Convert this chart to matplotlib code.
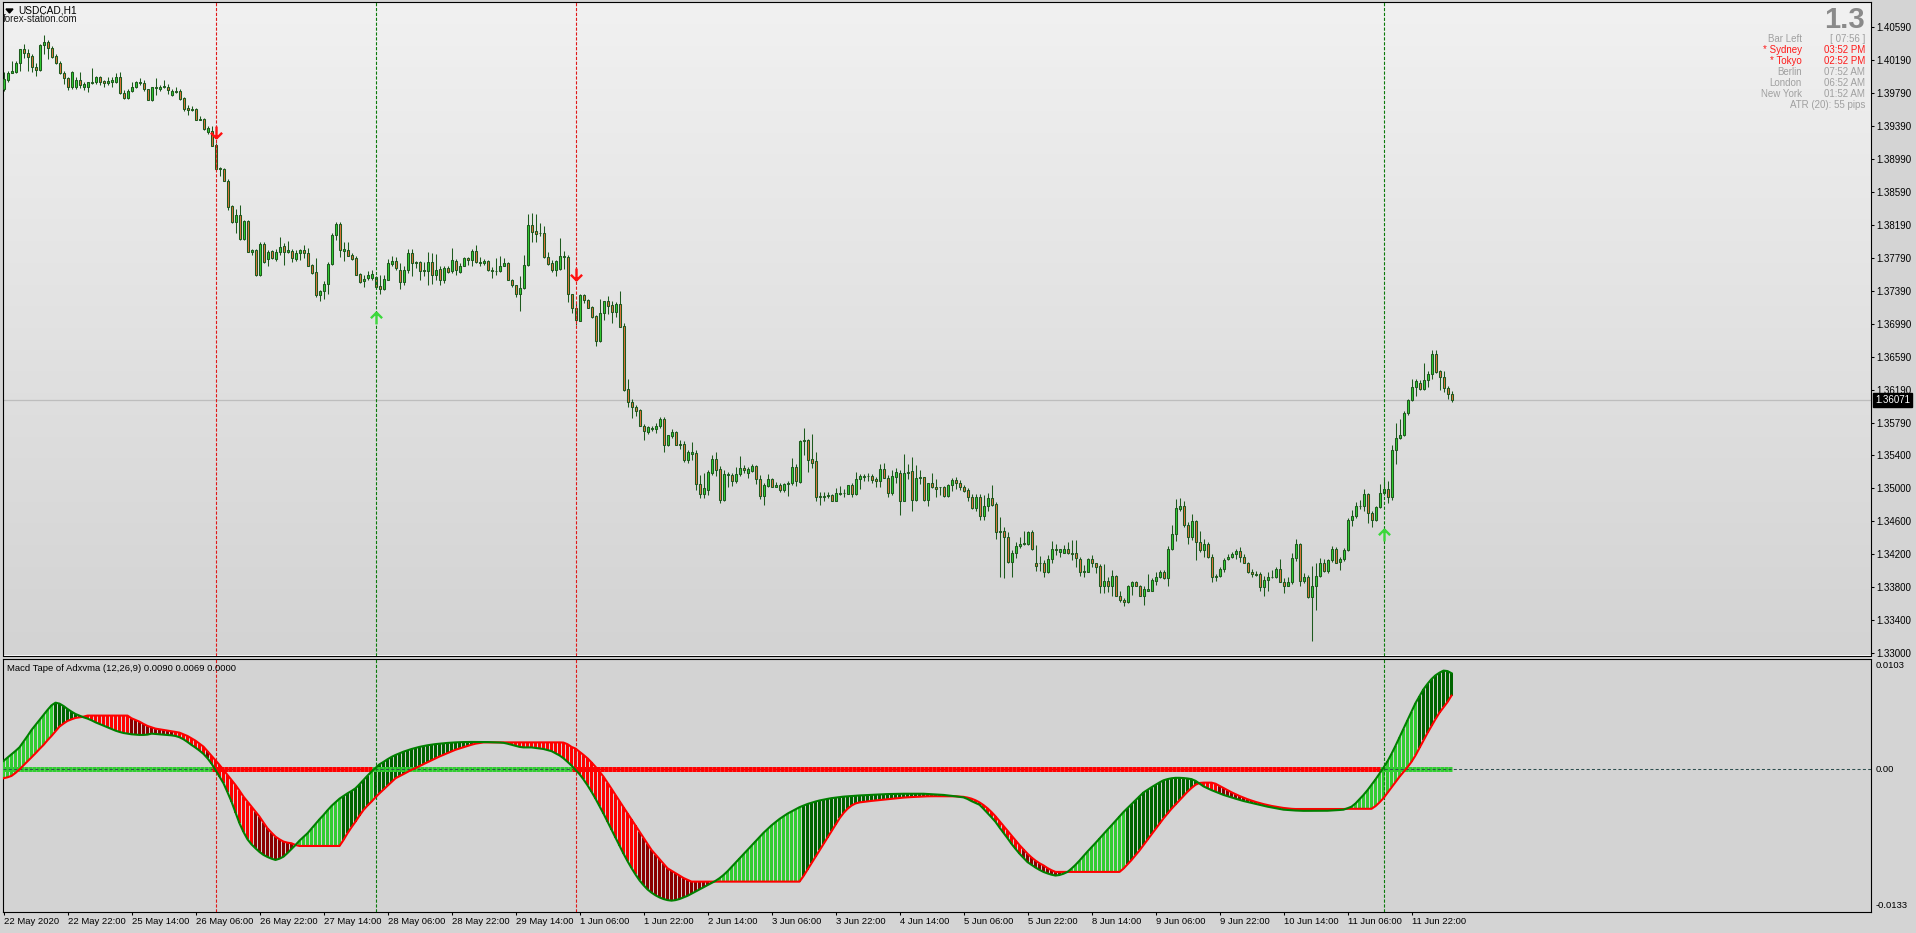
import numpy as np
import matplotlib
matplotlib.use("Agg")
import matplotlib.pyplot as plt
from matplotlib.collections import LineCollection
from matplotlib.patches import Polygon
from matplotlib.path import Path
from matplotlib.transforms import blended_transform_factory

plt.rcParams['font.family'] = ['Liberation Sans', 'DejaVu Sans']

# ---------------- DATA ----------------
opens = [
1.3984,1.3995,1.4004,1.4005,1.4015,1.4032,1.4028,1.4024,1.4011,1.4007,
1.4037,1.4041,1.4034,1.4024,1.4016,1.4004,1.3997,1.3986,1.3987,1.3995,
1.3987,1.3987,1.3991,1.3992,1.3998,1.3994,1.3991,1.3992,1.3993,1.3999,
1.3979,1.3973,1.3981,1.3986,1.3991,1.3991,1.3984,1.3971,1.3985,1.3984,
1.3986,1.3987,1.3977,1.3980,1.3982,1.3973,1.3961,1.3959,1.3960,1.3947,
1.3948,1.3932,1.3933,1.3916,1.3888,1.3887,1.3873,1.3842,1.3823,1.3831,
1.3802,1.3824,1.3787,1.3789,1.3758,1.3796,1.3778,1.3788,1.3778,1.3786,
1.3794,1.3786,1.3788,1.3778,1.3785,1.3789,1.3785,1.3771,1.3762,1.3734,
1.3739,1.3748,1.3772,1.3807,1.3820,1.3788,1.3789,1.3783,1.3779,1.3760,
1.3751,1.3755,1.3755,1.3756,1.3745,1.3742,1.3753,1.3772,1.3776,1.3765,
1.3750,1.3765,1.3785,1.3773,1.3774,1.3763,1.3763,1.3774,1.3758,1.3766,
1.3752,1.3767,1.3763,1.3776,1.3762,1.3770,1.3779,1.3777,1.3788,1.3774,
1.3773,1.3776,1.3764,1.3763,1.3763,1.3770,1.3773,1.3752,1.3746,1.3736,
1.3743,1.3771,1.3819,1.3812,1.3809,1.3809,1.3780,1.3773,1.3765,1.3766,
1.3780,1.3780,1.3735,1.3718,1.3703,1.3734,1.3728,1.3720,1.3709,1.3678,
1.3713,1.3727,1.3722,1.3714,1.3723,1.3697,1.3620,1.3604,1.3598,1.3595,
1.3576,1.3568,1.3572,1.3572,1.3575,1.3584,1.3552,1.3563,1.3568,1.3554,
1.3554,1.3534,1.3542,1.3543,1.3505,1.3493,1.3498,1.3519,1.3535,1.3523,
1.3486,1.3516,1.3516,1.3509,1.3517,1.3525,1.3518,1.3521,1.3527,1.3511,
1.3491,1.3503,1.3511,1.3502,1.3504,1.3498,1.3505,1.3507,1.3526,1.3508,
1.3557,1.3558,1.3535,1.3533,1.3490,1.3490,1.3491,1.3492,1.3485,1.3493,
1.3494,1.3493,1.3504,1.3493,1.3511,1.3514,1.3515,1.3515,1.3511,1.3509,
1.3523,1.3513,1.3494,1.3514,1.3519,1.3485,1.3518,1.3521,1.3486,1.3513,
1.3514,1.3486,1.3506,1.3502,1.3501,1.3501,1.3491,1.3504,1.3510,1.3507,
1.3502,1.3498,1.3490,1.3476,1.3490,1.3466,1.3479,1.3488,1.3481,1.3447,
1.3448,1.3441,1.3411,1.3421,1.3430,1.3433,1.3433,1.3447,1.3409,1.3410,
1.3410,1.3398,1.3414,1.3427,1.3423,1.3422,1.3427,1.3422,1.3421,1.3414,
1.3398,1.3399,1.3414,1.3409,1.3406,1.3382,1.3388,1.3382,1.3394,1.3370,
1.3365,1.3362,1.3382,1.3387,1.3382,1.3370,1.3376,1.3376,1.3388,1.3392,
1.3399,1.3391,1.3427,1.3444,1.3475,1.3478,1.3455,1.3441,1.3460,1.3435,
1.3425,1.3433,1.3417,1.3392,1.3394,1.3402,1.3414,1.3417,1.3420,1.3424,
1.3417,1.3410,1.3398,1.3396,1.3396,1.3380,1.3389,1.3392,1.3392,1.3402,
1.3387,1.3382,1.3386,1.3415,1.3432,1.3388,1.3393,1.3368,1.3381,1.3394,
1.3410,1.3400,1.3413,1.3427,1.3411,1.3414,1.3425,1.3462,1.3466,1.3478,
1.3478,1.3493,1.3470,1.3461,1.3477,1.3494,1.3499,1.3489,1.3546,1.3561,
1.3565,1.3591,1.3607,1.3623,1.3628,1.3620,1.3631,1.3638,1.3663,1.3642,
1.3635,1.3622,1.3614]

highs = [
1.4005,1.4006,1.4018,1.4018,1.4033,1.4038,1.4032,1.4026,1.4016,1.4039,
1.4050,1.4044,1.4036,1.4026,1.4018,1.4006,1.3998,1.4006,1.3998,1.4005,
1.3993,1.3993,1.4009,1.4000,1.4000,1.3995,1.3999,1.3998,1.4004,1.4005,
1.3983,1.3984,1.3993,1.3994,1.3997,1.3995,1.3984,1.3987,1.3997,1.3989,
1.3995,1.3990,1.3984,1.3987,1.3984,1.3974,1.3965,1.3964,1.3961,1.3951,
1.3949,1.3939,1.3939,1.3918,1.3890,1.3888,1.3875,1.3843,1.3839,1.3843,
1.3825,1.3825,1.3790,1.3790,1.3798,1.3799,1.3789,1.3789,1.3790,1.3805,
1.3797,1.3800,1.3790,1.3789,1.3790,1.3795,1.3791,1.3772,1.3779,1.3740,
1.3751,1.3774,1.3809,1.3823,1.3823,1.3799,1.3799,1.3785,1.3781,1.3761,
1.3758,1.3763,1.3765,1.3757,1.3758,1.3759,1.3778,1.3782,1.3780,1.3773,
1.3769,1.3790,1.3790,1.3776,1.3776,1.3774,1.3787,1.3785,1.3784,1.3769,
1.3769,1.3769,1.3791,1.3778,1.3773,1.3780,1.3780,1.3790,1.3795,1.3780,
1.3778,1.3777,1.3768,1.3779,1.3782,1.3779,1.3774,1.3754,1.3747,1.3757,
1.3783,1.3832,1.3834,1.3833,1.3822,1.3818,1.3787,1.3777,1.3777,1.3803,
1.3788,1.3783,1.3736,1.3724,1.3736,1.3736,1.3729,1.3721,1.3710,1.3729,
1.3727,1.3733,1.3727,1.3726,1.3739,1.3700,1.3632,1.3608,1.3601,1.3596,
1.3578,1.3576,1.3576,1.3579,1.3586,1.3586,1.3565,1.3572,1.3569,1.3559,
1.3557,1.3546,1.3556,1.3547,1.3516,1.3519,1.3522,1.3540,1.3544,1.3527,
1.3522,1.3520,1.3518,1.3526,1.3539,1.3528,1.3526,1.3529,1.3528,1.3516,
1.3507,1.3517,1.3512,1.3508,1.3506,1.3506,1.3509,1.3537,1.3529,1.3559,
1.3573,1.3560,1.3566,1.3544,1.3495,1.3495,1.3496,1.3493,1.3500,1.3503,
1.3499,1.3504,1.3506,1.3520,1.3517,1.3517,1.3518,1.3517,1.3514,1.3529,
1.3531,1.3516,1.3522,1.3525,1.3522,1.3541,1.3530,1.3538,1.3528,1.3522,
1.3514,1.3507,1.3518,1.3511,1.3502,1.3503,1.3505,1.3513,1.3514,1.3510,
1.3504,1.3500,1.3493,1.3493,1.3493,1.3492,1.3494,1.3504,1.3483,1.3465,
1.3453,1.3447,1.3425,1.3435,1.3441,1.3448,1.3448,1.3450,1.3431,1.3418,
1.3413,1.3419,1.3436,1.3432,1.3427,1.3431,1.3435,1.3437,1.3437,1.3417,
1.3407,1.3416,1.3419,1.3410,1.3408,1.3408,1.3393,1.3401,1.3395,1.3375,
1.3367,1.3383,1.3388,1.3388,1.3383,1.3381,1.3396,1.3391,1.3399,1.3401,
1.3401,1.3430,1.3456,1.3487,1.3488,1.3484,1.3459,1.3469,1.3462,1.3448,
1.3439,1.3435,1.3420,1.3396,1.3404,1.3415,1.3420,1.3423,1.3427,1.3429,
1.3420,1.3411,1.3402,1.3400,1.3398,1.3394,1.3399,1.3401,1.3405,1.3414,
1.3391,1.3393,1.3421,1.3438,1.3434,1.3397,1.3395,1.3406,1.3409,1.3415,
1.3414,1.3414,1.3430,1.3429,1.3417,1.3428,1.3464,1.3474,1.3483,1.3486,
1.3499,1.3494,1.3473,1.3479,1.3505,1.3513,1.3509,1.3552,1.3579,1.3584,
1.3594,1.3608,1.3632,1.3633,1.3631,1.3652,1.3642,1.3668,1.3668,1.3643,
1.3642,1.3624,1.3618]

lows = [
1.3981,1.3993,1.4003,1.4003,1.4006,1.4022,1.4006,1.4005,1.4000,1.4006,
1.4026,1.4020,1.4021,1.4014,1.4002,1.3990,1.3983,1.3984,1.3984,1.3985,
1.3983,1.3980,1.3990,1.3990,1.3989,1.3987,1.3989,1.3987,1.3991,1.3978,
1.3972,1.3972,1.3980,1.3985,1.3989,1.3981,1.3971,1.3969,1.3977,1.3982,
1.3985,1.3978,1.3975,1.3979,1.3971,1.3957,1.3953,1.3957,1.3946,1.3946,
1.3934,1.3930,1.3915,1.3886,1.3878,1.3873,1.3837,1.3821,1.3810,1.3801,
1.3801,1.3786,1.3783,1.3757,1.3757,1.3773,1.3769,1.3778,1.3776,1.3783,
1.3771,1.3785,1.3774,1.3775,1.3777,1.3779,1.3769,1.3760,1.3732,1.3727,
1.3730,1.3735,1.3771,1.3801,1.3780,1.3776,1.3781,1.3777,1.3758,1.3749,
1.3744,1.3752,1.3752,1.3741,1.3735,1.3740,1.3752,1.3769,1.3765,1.3741,
1.3747,1.3761,1.3757,1.3767,1.3752,1.3757,1.3746,1.3748,1.3752,1.3747,
1.3749,1.3761,1.3761,1.3758,1.3761,1.3769,1.3771,1.3769,1.3773,1.3769,
1.3771,1.3763,1.3755,1.3759,1.3762,1.3769,1.3752,1.3744,1.3732,1.3715,
1.3742,1.3770,1.3798,1.3798,1.3806,1.3779,1.3771,1.3762,1.3757,1.3765,
1.3766,1.3726,1.3712,1.3698,1.3703,1.3725,1.3718,1.3706,1.3673,1.3677,
1.3704,1.3711,1.3700,1.3708,1.3695,1.3618,1.3598,1.3585,1.3588,1.3575,
1.3558,1.3566,1.3569,1.3567,1.3573,1.3544,1.3551,1.3561,1.3553,1.3548,
1.3532,1.3531,1.3534,1.3498,1.3488,1.3488,1.3492,1.3516,1.3515,1.3482,
1.3484,1.3501,1.3503,1.3506,1.3515,1.3518,1.3512,1.3520,1.3505,1.3487,
1.3480,1.3502,1.3501,1.3501,1.3496,1.3495,1.3491,1.3504,1.3503,1.3507,
1.3540,1.3520,1.3525,1.3485,1.3480,1.3485,1.3488,1.3484,1.3484,1.3492,
1.3489,1.3493,1.3490,1.3492,1.3499,1.3509,1.3509,1.3506,1.3501,1.3502,
1.3512,1.3490,1.3492,1.3506,1.3468,1.3484,1.3511,1.3472,1.3485,1.3505,
1.3485,1.3479,1.3500,1.3490,1.3492,1.3490,1.3490,1.3497,1.3499,1.3498,
1.3495,1.3484,1.3475,1.3472,1.3461,1.3461,1.3473,1.3479,1.3439,1.3393,
1.3391,1.3409,1.3393,1.3416,1.3428,1.3431,1.3431,1.3425,1.3400,1.3400,
1.3392,1.3397,1.3410,1.3419,1.3417,1.3421,1.3420,1.3413,1.3404,1.3394,
1.3392,1.3398,1.3405,1.3397,1.3373,1.3373,1.3374,1.3370,1.3369,1.3362,
1.3357,1.3361,1.3371,1.3381,1.3369,1.3359,1.3376,1.3375,1.3383,1.3391,
1.3390,1.3382,1.3425,1.3436,1.3472,1.3453,1.3433,1.3437,1.3413,1.3423,
1.3417,1.3416,1.3386,1.3388,1.3393,1.3398,1.3413,1.3416,1.3414,1.3411,
1.3409,1.3397,1.3392,1.3394,1.3375,1.3370,1.3375,1.3391,1.3391,1.3386,
1.3373,1.3381,1.3384,1.3412,1.3382,1.3385,1.3367,1.3315,1.3353,1.3393,
1.3398,1.3397,1.3411,1.3409,1.3401,1.3412,1.3424,1.3454,1.3464,1.3475,
1.3472,1.3458,1.3453,1.3460,1.3476,1.3492,1.3482,1.3486,1.3530,1.3560,
1.3563,1.3589,1.3606,1.3612,1.3619,1.3619,1.3623,1.3632,1.3640,1.3619,
1.3617,1.3608,1.3605]

closes = [
1.3996,1.4004,1.4006,1.4016,1.4032,1.4028,1.4023,1.4011,1.4007,1.4037,
1.4041,1.4034,1.4023,1.4016,1.4004,1.3997,1.3986,1.4005,1.3995,1.3989,
1.3990,1.3992,1.3992,1.3999,1.3992,1.3991,1.3994,1.3995,1.3999,1.3979,
1.3973,1.3981,1.3986,1.3992,1.3993,1.3984,1.3971,1.3986,1.3986,1.3987,
1.3988,1.3983,1.3982,1.3982,1.3972,1.3960,1.3959,1.3960,1.3947,1.3948,
1.3936,1.3937,1.3915,1.3887,1.3887,1.3873,1.3841,1.3823,1.3831,1.3802,
1.3824,1.3787,1.3789,1.3758,1.3796,1.3774,1.3787,1.3779,1.3786,1.3793,
1.3787,1.3789,1.3779,1.3785,1.3789,1.3785,1.3770,1.3761,1.3734,1.3739,
1.3748,1.3772,1.3807,1.3820,1.3789,1.3790,1.3782,1.3778,1.3759,1.3750,
1.3754,1.3759,1.3760,1.3744,1.3742,1.3754,1.3773,1.3775,1.3767,1.3750,
1.3765,1.3785,1.3773,1.3774,1.3763,1.3764,1.3774,1.3758,1.3765,1.3752,
1.3767,1.3762,1.3777,1.3765,1.3770,1.3779,1.3777,1.3788,1.3774,1.3773,
1.3775,1.3764,1.3763,1.3763,1.3770,1.3773,1.3752,1.3746,1.3735,1.3743,
1.3771,1.3819,1.3811,1.3808,1.3810,1.3780,1.3772,1.3764,1.3775,1.3781,
1.3782,1.3735,1.3718,1.3704,1.3734,1.3728,1.3719,1.3708,1.3678,1.3713,
1.3727,1.3721,1.3714,1.3723,1.3696,1.3619,1.3604,1.3598,1.3594,1.3576,
1.3569,1.3574,1.3573,1.3576,1.3584,1.3552,1.3564,1.3568,1.3553,1.3553,
1.3534,1.3544,1.3544,1.3505,1.3493,1.3500,1.3520,1.3535,1.3522,1.3486,
1.3517,1.3517,1.3509,1.3517,1.3525,1.3522,1.3523,1.3527,1.3511,1.3491,
1.3504,1.3511,1.3502,1.3504,1.3498,1.3505,1.3507,1.3526,1.3509,1.3557,
1.3559,1.3534,1.3531,1.3490,1.3491,1.3491,1.3492,1.3485,1.3494,1.3494,
1.3494,1.3504,1.3493,1.3511,1.3515,1.3515,1.3515,1.3510,1.3509,1.3523,
1.3513,1.3494,1.3515,1.3520,1.3485,1.3518,1.3520,1.3486,1.3513,1.3514,
1.3486,1.3506,1.3502,1.3499,1.3501,1.3491,1.3504,1.3510,1.3507,1.3501,
1.3497,1.3490,1.3476,1.3490,1.3466,1.3479,1.3488,1.3480,1.3447,1.3448,
1.3441,1.3411,1.3421,1.3430,1.3433,1.3434,1.3447,1.3426,1.3406,1.3409,
1.3398,1.3414,1.3427,1.3425,1.3426,1.3427,1.3421,1.3420,1.3415,1.3398,
1.3400,1.3414,1.3409,1.3405,1.3382,1.3388,1.3382,1.3394,1.3370,1.3365,
1.3362,1.3382,1.3387,1.3382,1.3370,1.3378,1.3378,1.3389,1.3392,1.3399,
1.3391,1.3427,1.3444,1.3476,1.3478,1.3455,1.3441,1.3460,1.3435,1.3425,
1.3433,1.3417,1.3392,1.3394,1.3402,1.3413,1.3417,1.3420,1.3424,1.3417,
1.3410,1.3398,1.3396,1.3395,1.3380,1.3389,1.3392,1.3393,1.3402,1.3387,
1.3382,1.3386,1.3415,1.3432,1.3388,1.3393,1.3368,1.3381,1.3394,1.3410,
1.3400,1.3413,1.3427,1.3410,1.3414,1.3425,1.3462,1.3466,1.3478,1.3479,
1.3493,1.3470,1.3461,1.3477,1.3494,1.3499,1.3489,1.3546,1.3561,1.3565,
1.3591,1.3607,1.3623,1.3630,1.3620,1.3631,1.3639,1.3663,1.3641,1.3635,
1.3622,1.3614,1.36071]

# MACD tape values, in units of 0.0001
macd_pts = [
7.8,10.9,14.0,17.2,20.6,25.9,31.2,36.8,41.5,46.2,
50.9,55.6,59.9,62.4,61.5,59.3,56.5,54.0,51.8,50.3,
48.7,47.5,45.9,44.0,42.5,40.9,39.3,37.8,36.2,35.0,
34.0,33.4,32.8,32.5,32.2,32.2,32.5,33.4,33.1,32.8,
32.5,32.2,31.8,31.2,30.0,28.1,25.6,22.8,20.3,17.5,
14.4,10.3,5.3,-0.6,-6.9,-13.1,-21.5,-30.3,-40.6,-50.6,
-58.7,-65.6,-70.3,-74.0,-77.4,-80.2,-82.1,-83.7,-84.9,-83.7,
-81.8,-78.4,-74.6,-70.9,-66.8,-63.4,-59.9,-55.6,-51.2,-46.8,
-42.8,-38.4,-34.3,-30.9,-27.5,-25.0,-22.5,-20.3,-17.8,-14.0,
-10.0,-5.9,-2.2,1.2,4.7,6.9,9.4,11.6,13.4,15.0,
16.5,17.8,19.0,20.0,21.0,21.8,22.5,23.1,23.6,24.0,
24.4,24.7,25.0,25.2,25.4,25.5,25.6,25.6,25.6,25.6,
25.6,25.5,25.4,25.3,25.1,24.8,24.0,23.0,22.0,21.0,
20.5,20.5,20.5,20.0,19.5,19.0,18.0,17.0,15.0,13.0,
10.3,7.0,3.5,-0.5,-4.5,-9.5,-15.0,-21.0,-27.5,-34.5,
-41.5,-49.0,-56.5,-64.0,-71.5,-79.0,-86.0,-92.5,-98.5,-104.0,
-108.5,-112.5,-115.5,-118.0,-120.0,-121.5,-122.5,-123.0,-122.5,-121.5,
-120.0,-118.5,-116.5,-114.5,-112.5,-110.5,-108.5,-106.5,-104.5,-102.0,
-99.0,-95.5,-91.5,-87.5,-83.5,-79.5,-75.5,-71.5,-67.5,-63.5,
-59.5,-56.0,-52.5,-49.5,-46.5,-44.0,-41.5,-39.5,-37.5,-35.5,
-34.0,-32.5,-31.3,-30.2,-29.2,-28.4,-27.7,-27.0,-26.5,-26.0,
-25.6,-25.3,-25.0,-24.7,-24.5,-24.3,-24.1,-23.9,-23.7,-23.5,
-23.3,-23.2,-23.1,-23.0,-22.9,-22.9,-22.9,-22.9,-22.9,-22.9,
-22.9,-23.1,-23.3,-23.5,-23.8,-24.0,-24.4,-24.8,-25.3,-25.8,
-26.3,-27.8,-29.8,-31.5,-33.2,-37.0,-41.0,-45.0,-49.2,-54.5,
-59.5,-64.5,-69.8,-74.5,-79.0,-83.0,-86.9,-89.5,-92.0,-94.2,
-96.1,-97.5,-98.7,-99.5,-99.0,-97.8,-96.1,-93.0,-89.5,-85.5,
-81.2,-77.0,-73.0,-69.0,-64.8,-60.6,-56.5,-52.5,-48.3,-44.2,
-40.0,-36.3,-32.6,-28.9,-25.3,-21.7,-19.2,-16.8,-14.5,-12.3,
-10.3,-9.2,-8.4,-8.0,-8.0,-8.2,-8.6,-9.2,-10.8,-13.3,
-16.0,-17.8,-19.5,-21.0,-22.5,-24.0,-25.2,-26.4,-27.5,-28.6,
-29.7,-30.6,-31.5,-32.5,-33.4,-34.3,-35.0,-35.7,-36.4,-37.1,
-37.8,-38.1,-38.4,-38.6,-38.8,-38.9,-38.9,-38.9,-38.9,-38.9,
-38.9,-38.8,-38.6,-38.4,-38.1,-37.8,-36.5,-35.0,-32.0,-28.0,
-24.0,-19.5,-14.5,-9.5,-4.0,1.5,7.5,14.5,22.0,30.0,
38.0,46.0,54.0,62.0,68.5,75.0,80.0,84.5,88.0,90.5,
92.4,92.0,90.0]

signal_pts = [
-8.4,-7.5,-6.2,-3.4,0.0,3.7,7.5,11.2,15.0,19.0,
22.8,27.2,31.2,35.6,40.0,42.8,45.3,46.8,48.1,48.7,
49.3,50.3,50.3,50.3,50.3,50.3,50.3,50.3,50.3,50.3,
50.3,50.3,47.8,46.2,44.6,42.5,40.6,39.3,38.1,37.5,
36.8,36.2,35.6,35.0,34.3,32.8,31.2,29.0,26.8,24.0,
21.2,16.9,12.5,8.4,4.1,-0.6,-5.3,-10.0,-14.7,-20.0,
-25.6,-30.3,-35.0,-39.6,-44.3,-49.9,-55.3,-59.3,-63.1,-65.6,
-67.7,-68.7,-69.3,-70.9,-71.8,-71.8,-71.8,-71.8,-71.8,-71.8,
-71.8,-71.8,-71.8,-71.8,-71.8,-66.2,-59.9,-54.3,-49.0,-43.4,
-38.1,-34.0,-30.3,-26.2,-22.5,-19.0,-15.6,-11.9,-8.4,-6.5,
-4.5,-2.5,-0.5,1.1,3.0,4.8,6.6,8.5,10.3,12.0,
13.6,15.2,16.8,18.3,19.5,20.7,21.9,23.0,24.0,24.6,
25.2,25.2,25.2,25.2,25.2,25.2,25.2,25.2,25.2,25.2,
25.2,25.2,25.2,25.2,25.2,25.2,25.2,25.2,25.2,25.2,
25.0,23.5,21.0,19.4,16.5,13.5,10.3,6.5,2.3,-2.2,
-6.9,-12.5,-18.2,-24.0,-29.7,-35.5,-41.2,-47.0,-52.6,-58.4,
-64.1,-69.8,-75.5,-79.8,-84.2,-88.5,-92.7,-95.0,-97.3,-99.6,
-101.8,-103.5,-105.2,-105.2,-105.2,-105.2,-105.2,-105.2,-105.2,-105.2,
-105.2,-105.2,-105.2,-105.2,-105.2,-105.2,-105.2,-105.2,-105.2,-105.2,
-105.2,-105.2,-105.2,-105.2,-105.2,-105.2,-105.2,-105.2,-105.2,-105.2,
-100.0,-94.0,-88.0,-82.0,-76.0,-70.0,-64.0,-58.0,-52.0,-46.0,
-41.0,-37.0,-34.0,-32.0,-31.0,-30.5,-30.0,-29.6,-29.2,-28.8,
-28.4,-28.0,-27.6,-27.2,-26.8,-26.5,-26.2,-26.0,-25.8,-25.6,
-25.4,-25.3,-25.2,-25.2,-25.2,-25.2,-25.2,-25.2,-25.3,-25.5,
-25.8,-26.5,-27.5,-29.0,-31.0,-33.5,-36.5,-40.0,-44.0,-48.5,
-53.0,-57.5,-62.0,-66.5,-71.0,-75.0,-79.0,-82.5,-85.5,-88.0,
-90.0,-92.5,-94.5,-96.1,-96.1,-96.1,-96.1,-96.1,-96.1,-96.1,
-96.1,-96.1,-96.1,-96.1,-96.1,-96.1,-96.1,-96.1,-96.1,-96.1,
-93.0,-89.0,-85.0,-80.5,-76.0,-71.0,-66.0,-61.0,-56.0,-51.0,
-46.0,-41.5,-37.0,-33.0,-29.0,-25.0,-21.0,-17.5,-14.5,-12.8,
-12.5,-12.5,-12.5,-13.5,-15.5,-17.5,-19.5,-21.5,-23.3,-25.0,
-26.5,-28.0,-29.3,-30.5,-31.6,-32.6,-33.5,-34.3,-35.0,-35.6,
-36.2,-36.6,-37.0,-37.2,-37.2,-37.2,-37.2,-37.2,-37.2,-37.2,
-37.2,-37.2,-37.2,-37.2,-37.2,-37.2,-37.0,-37.0,-37.0,-37.0,
-37.0,-37.0,-37.0,-34.5,-31.0,-27.0,-22.0,-17.0,-12.0,-7.0,
-2.5,2.0,7.0,13.0,20.0,27.0,34.0,40.5,47.0,53.0,
58.0,63.0,69.0]

time_tick_bars = [0, 16, 32, 48, 64, 80, 96, 112, 128, 144, 160, 176, 192,
                  208, 224, 240, 256, 272, 288, 304, 320, 336, 352]
time_labels = ["22 May 2020", "22 May 22:00", "25 May 14:00", "26 May 06:00",
               "26 May 22:00", "27 May 14:00", "28 May 06:00", "28 May 22:00",
               "29 May 14:00", "1 Jun 06:00", "1 Jun 22:00", "2 Jun 14:00",
               "3 Jun 06:00", "3 Jun 22:00", "4 Jun 14:00", "5 Jun 06:00",
               "5 Jun 22:00", "8 Jun 14:00", "9 Jun 06:00", "9 Jun 22:00",
               "10 Jun 14:00", "11 Jun 06:00", "11 Jun 22:00"]

price_ticks = [1.40590, 1.40190, 1.39790, 1.39390, 1.38990, 1.38590, 1.38190,
               1.37790, 1.37390, 1.36990, 1.36590, 1.36190, 1.35790, 1.35400,
               1.35000, 1.34600, 1.34200, 1.33800, 1.33400, 1.33000]

sell_bars = [53, 143]
sell_prices = [1.3932, 1.3760]
buy_bars = [93, 345]
buy_prices = [1.3707, 1.3443]

info_names = ["Bar Left", "* Sydney", "* Tokyo", "Berlin", "London", "New York"]
info_values = ["[ 07:56 ]", "03:52 PM", "02:52 PM", "07:52 AM", "06:52 AM", "01:52 AM"]
info_active = [False, True, True, False, False, False]

# ---------------- FIGURE ----------------
W, H = 1916, 933
fig = plt.figure(figsize=(W / 100, H / 100), dpi=100)
fig.patch.set_facecolor('#D4D4D4')

ax1 = fig.add_axes([2.5 / W, 1 - 655.5 / H, 1868 / W, 653 / H])
ax2 = fig.add_axes([2.5 / W, 1 - 911.5 / H, 1868 / W, 253 / H])

o = np.array(opens); h = np.array(highs); l = np.array(lows); c = np.array(closes)
n = len(o)
x = np.arange(n)
macd = np.array(macd_pts) * 1e-4
sig = np.array(signal_pts) * 1e-4

EDGE = '#1E5A1E'
BULL = '#32CD32'
BEAR = '#E0733A'

# gradient background of main chart
g = np.linspace(241, 211, 256) / 255.0
grad = np.repeat(g[:, None], 3, axis=1)[:, None, :]
ax1.imshow(grad, extent=(0, 1, 0, 1), transform=ax1.transAxes, aspect='auto',
           interpolation='bilinear', zorder=0)

# current price line
ax1.axhline(c[-1], color='#BDBDBD', lw=0.9, zorder=1)

# candles
ax1.vlines(x, l, h, color=EDGE, lw=0.75, zorder=2)
up = c >= o
lo = np.minimum(o, c); hi = np.maximum(o, c)
ax1.bar(x[up], (hi - lo)[up], bottom=lo[up], width=0.5, color=BULL,
        edgecolor=EDGE, linewidth=0.75, zorder=3)
ax1.bar(x[~up], (hi - lo)[~up], bottom=lo[~up], width=0.5, color=BEAR,
        edgecolor=EDGE, linewidth=0.75, zorder=3)

# signal arrows (drawn as open arrow markers)
down_arrow = Path([(0, 1), (0, -1), (-0.95, -0.05), (0, -1), (0.95, -0.05)],
                  [Path.MOVETO, Path.LINETO, Path.MOVETO, Path.LINETO, Path.LINETO])
up_arrow = Path([(0, -1), (0, 1), (-0.95, 0.05), (0, 1), (0.95, 0.05)],
                [Path.MOVETO, Path.LINETO, Path.MOVETO, Path.LINETO, Path.LINETO])
ax1.plot(sell_bars, sell_prices, ls='none', marker=down_arrow, ms=8.5,
         mec='#FF1010', mfc='none', mew=1.7, zorder=6)
ax1.plot(buy_bars, buy_prices, ls='none', marker=up_arrow, ms=8.5,
         mec='#3CD83C', mfc='none', mew=1.7, zorder=6)

# vertical dashed lines
for ax in (ax1, ax2):
    for b in sell_bars:
        ax.axvline(b, color='#E01818', lw=0.8, ls=(0, (2.9, 1.5)), zorder=5)
    for b in buy_bars:
        ax.axvline(b, color='#0A7A0A', lw=0.8, ls=(0, (2.9, 1.5)), zorder=5)

ax1.set_xlim(-0.25, 466.75)
ax1.set_ylim(1.329733, 1.408885)
ax1.set_xticks([])
ax1.yaxis.tick_right()
ax1.set_yticks(price_ticks)
ax1.set_yticklabels([f'{v:.5f}' for v in price_ticks])
ax1.tick_params(axis='y', direction='out', length=2.2, width=0.75, pad=1.8,
                labelsize=7, colors='black')
for sp in ax1.spines.values():
    sp.set_color('black'); sp.set_linewidth(0.8)

# current price label
tr = blended_transform_factory(ax1.transAxes, ax1.transData)
ax1.text(1.0 + 4.5 / 1868, c[-1], f'{c[-1]:.5f}', transform=tr, ha='left', va='center',
         fontsize=7, color='white', clip_on=False, zorder=10,
         bbox=dict(boxstyle='square,pad=0.22', fc='black', ec='black'))

# ---------------- INDICATOR ----------------
ax2.set_facecolor('#D3D3D3')
diff = macd - sig
ad = np.abs(diff)
widen = np.r_[True, ad[1:] >= ad[:-1]]
cols = np.where(diff >= 0, np.where(widen, '#32CD32', '#006400'),
                np.where(widen, '#FF0000', '#8B0000'))
ax2.bar(x, ad, bottom=np.minimum(macd, sig), width=0.75, color=cols,
        linewidth=0, zorder=3)

segs = [[(i - 1, 0.0), (i, 0.0)] for i in range(1, n)]
pos = macd[1:] >= 0
ax2.add_collection(LineCollection([s for s, p in zip(segs, pos) if p],
                                  colors='#32CD32', linewidths=3.6, zorder=4,
                                  capstyle='butt'))
ax2.axhline(0, color='#2F4F4F', lw=0.75, ls=(0, (2.9, 2.2)), zorder=4.5)
ax2.add_collection(LineCollection([s for s, p in zip(segs, pos) if not p],
                                  colors='#FF0000', linewidths=3.6, zorder=5,
                                  capstyle='butt'))
ax2.plot(x, sig, color='#FF0000', lw=1.5, zorder=7)
ax2.plot(x, macd, color='#008000', lw=1.5, zorder=8)

ax2.set_xlim(-0.25, 466.75)
ax2.set_ylim(-0.013317, 0.010376)
ax2.set_yticks([])
ax2.set_xticks(time_tick_bars)
ax2.set_xticklabels(time_labels)
for t in ax2.get_xticklabels():
    t.set_ha('left')
ax2.tick_params(axis='x', direction='out', length=2.5, width=0.75, pad=1.6,
                labelsize=6.8, colors='black')
for sp in ax2.spines.values():
    sp.set_color('black'); sp.set_linewidth(0.8)

ax2.text(0.0025, 0.0094, 'Macd Tape of Adxvma (12,26,9) 0.0090 0.0069 0.0000',
         transform=blended_transform_factory(ax2.transAxes, ax2.transData),
         fontsize=6.8, ha='left', va='center', color='black', zorder=10)

def ftext(px, py, s, **kw):
    fig.text(px / W, 1 - py / H, s, **kw)

ftext(1876, 666, '0.0103', fontsize=6.8, ha='left', va='center')
ftext(1876, 769, '0.00', fontsize=6.8, ha='left', va='center')
ftext(1876, 906, '-0.0133', fontsize=6.8, ha='left', va='center')

# ---------------- HEADER TEXTS ----------------
tri = Polygon([[6 / W, 1 - 9 / H], [13 / W, 1 - 9 / H], [9.5 / W, 1 - 13 / H]],
              closed=True, transform=fig.transFigure, color='black')
fig.patches.append(tri)
ftext(18, 10.5, 'USDCAD,H1', fontsize=7.3, ha='left', va='center', color='black')
ftext(3, 19.5, 'forex-station.com', fontsize=7, ha='left', va='center', color='#1A1A1A')

ftext(1865, 19.5, '1.3', fontsize=21, fontweight='bold', ha='right', va='center',
      color='#8A8A8A')
row_y = [39, 50, 61, 72, 83, 94]
for name, val, act, yy in zip(info_names, info_values, info_active, row_y):
    col = '#FF1A1A' if act else '#A0A0A0'
    ftext(1802, yy, name, fontsize=7, ha='right', va='center', color=col)
    ftext(1865, yy, val, fontsize=7, ha='right', va='center', color=col)
ftext(1865, 105, 'ATR (20): 55 pips', fontsize=7, ha='right', va='center',
      color='#A0A0A0')

fig.savefig('out.png', dpi=100, facecolor=fig.get_facecolor())
